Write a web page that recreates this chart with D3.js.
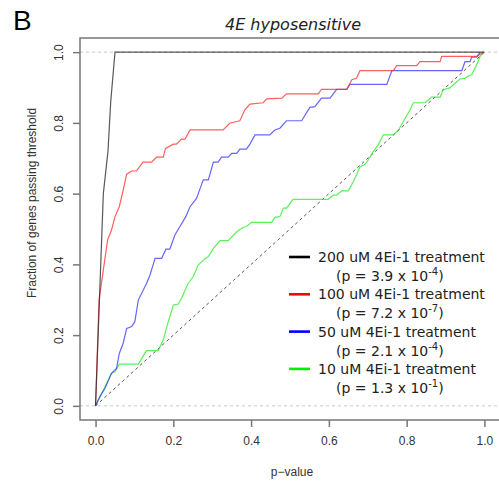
<!DOCTYPE html>
<html lang="en">
<head>
  <meta charset="UTF-8">
  <title>4E hyposensitive</title>
  <script src="https://d3js.org/d3.v7.min.js"></script>
  <style>
    body { margin: 0; background: white; }
    svg { display: block; }
  </style>
</head>
<body>
  <svg id="chart" width="499" height="489"></svg>
  <script>
    // cumulative fraction of genes passing threshold
    const p200 = [0, 0.007, 0.02, 0.032, 0.039, 0.05, 1.0];
    const f200 = [0, 0.21, 0.60, 0.72, 0.86, 1.0, 1.0];

    const p100 = [0, 0.009, 0.031, 0.041, 0.050, 0.061, 0.071, 0.080, 0.093, 0.105, 0.122, 0.144, 0.157, 0.174, 0.180, 0.200, 0.208, 0.221, 0.230, 0.243, 0.328, 0.345, 0.371, 0.384, 0.397, 0.431, 0.440, 0.479, 0.491, 0.573, 0.581, 0.646, 0.659, 0.671, 0.680, 0.766, 0.774, 0.826, 0.834, 0.886, 0.890, 0.980, 0.997];
    const f100 = [0, 0.299, 0.469, 0.497, 0.535, 0.563, 0.610, 0.655, 0.664, 0.664, 0.689, 0.689, 0.703, 0.703, 0.728, 0.740, 0.740, 0.754, 0.754, 0.780, 0.780, 0.799, 0.806, 0.837, 0.853, 0.857, 0.868, 0.870, 0.882, 0.882, 0.895, 0.895, 0.922, 0.926, 0.948, 0.948, 0.962, 0.962, 0.973, 0.973, 0.988, 0.988, 1.0];

    const p50 = [0, 0.011, 0.024, 0.041, 0.054, 0.061, 0.071, 0.080, 0.093, 0.101, 0.110, 0.131, 0.140, 0.153, 0.170, 0.181, 0.191, 0.204, 0.217, 0.232, 0.243, 0.260, 0.268, 0.277, 0.290, 0.303, 0.315, 0.324, 0.341, 0.350, 0.363, 0.371, 0.388, 0.397, 0.410, 0.448, 0.461, 0.474, 0.491, 0.530, 0.551, 0.564, 0.581, 0.603, 0.620, 0.646, 0.654, 0.749, 0.762, 0.942, 0.950, 0.963, 0.967, 0.980, 0.989];
    const f50 = [0, 0.026, 0.049, 0.092, 0.106, 0.148, 0.177, 0.219, 0.224, 0.238, 0.299, 0.346, 0.370, 0.417, 0.417, 0.443, 0.443, 0.483, 0.507, 0.535, 0.563, 0.587, 0.612, 0.639, 0.639, 0.689, 0.689, 0.703, 0.703, 0.714, 0.714, 0.726, 0.726, 0.740, 0.766, 0.766, 0.780, 0.785, 0.806, 0.806, 0.844, 0.846, 0.870, 0.870, 0.895, 0.895, 0.909, 0.909, 0.948, 0.948, 0.973, 0.973, 0.986, 0.986, 1.0];

    const p10 = [0, 0.020, 0.041, 0.050, 0.061, 0.110, 0.131, 0.161, 0.174, 0.187, 0.200, 0.213, 0.221, 0.238, 0.251, 0.264, 0.277, 0.290, 0.303, 0.320, 0.341, 0.363, 0.380, 0.388, 0.401, 0.453, 0.461, 0.474, 0.483, 0.491, 0.508, 0.598, 0.611, 0.620, 0.633, 0.650, 0.663, 0.671, 0.680, 0.693, 0.701, 0.714, 0.727, 0.740, 0.766, 0.779, 0.796, 0.809, 0.817, 0.848, 0.856, 0.864, 0.886, 0.894, 0.911, 0.920, 0.937, 0.950, 0.959, 0.967, 0.980, 0.989, 0.997];
    const f10 = [0, 0.044, 0.092, 0.096, 0.118, 0.118, 0.156, 0.156, 0.186, 0.238, 0.285, 0.288, 0.304, 0.346, 0.365, 0.398, 0.412, 0.422, 0.445, 0.467, 0.467, 0.492, 0.505, 0.507, 0.519, 0.519, 0.533, 0.535, 0.559, 0.559, 0.584, 0.584, 0.596, 0.596, 0.608, 0.608, 0.634, 0.653, 0.676, 0.683, 0.695, 0.719, 0.738, 0.766, 0.766, 0.780, 0.813, 0.837, 0.857, 0.857, 0.865, 0.873, 0.873, 0.894, 0.899, 0.908, 0.924, 0.926, 0.933, 0.936, 0.964, 0.988, 1.0];

    const seriesNames = ["200 uM 4Ei-1 treatment", "100 uM 4Ei-1 treatment", "50 uM 4Ei-1 treatment", "10 uM 4Ei-1 treatment"];
    const pMantissa = ["3.9", "7.2", "2.1", "1.3"];
    const pExponent = ["-4", "-7", "-4", "-1"];
    const xTicks = [0, 0.2, 0.4, 0.6, 0.8, 1.0];
    const yTicks = [0, 0.2, 0.4, 0.6, 0.8, 1.0];

    const svg = d3.select("#chart");

    // R-like 4% padding on both axes
    const x = d3.scaleLinear().domain([-0.04, 1.04]).range([80, 500]);
    const y = d3.scaleLinear().domain([-0.04, 1.04]).range([420, 38]);

    // panel letter and title
    svg.append("text")
       .attr("x", 13).attr("y", 30)
       .attr("font-family", "Liberation Sans, Arial, sans-serif")
       .attr("font-size", 28)
       .text("B");
    svg.append("text")
       .attr("x", 293).attr("y", 30)
       .attr("text-anchor", "middle")
       .attr("font-family", "DejaVu Sans, sans-serif")
       .attr("font-style", "italic")
       .attr("font-size", 16)
       .attr("fill", "#222")
       .text("4E hyposensitive");

    // reference lines at 0 and 1
    [0, 1].forEach(v => {
      svg.append("line")
         .attr("x1", x.range()[0]).attr("x2", x.range()[1])
         .attr("y1", y(v)).attr("y2", y(v))
         .attr("stroke", "#c8c8c8")
         .attr("stroke-dasharray", "3,3");
    });

    // diagonal
    svg.append("line")
       .attr("x1", x(0)).attr("y1", y(0))
       .attr("x2", x(1)).attr("y2", y(1))
       .attr("stroke", "#555")
       .attr("stroke-dasharray", "3,3");

    const lineGen = d3.line().x(d => x(d[0])).y(d => y(d[1]));

    const series = [
      { px: p10,  fy: f10,  color: "#22ee22" },
      { px: p50,  fy: f50,  color: "#3333ff" },
      { px: p100, fy: f100, color: "#ff2a2a" },
      { px: p200, fy: f200, color: "#222222" }
    ];
    series.forEach(s => {
      svg.append("path")
         .datum(s.px.map((p, i) => [p, s.fy[i]]))
         .attr("fill", "none")
         .attr("stroke", s.color)
         .attr("stroke-opacity", 0.75)
         .attr("stroke-width", 1.2)
         .attr("d", lineGen);
    });

    // box (right side falls outside the picture)
    svg.append("path")
       .attr("d", `M${x.range()[1]},${y.range()[1]}H${x.range()[0]}V${y.range()[0]}H${x.range()[1]}`)
       .attr("fill", "none")
       .attr("stroke", "#777")
       .attr("stroke-width", 1.5);

    // axes
    const xAxis = svg.append("g")
       .attr("transform", `translate(0,420)`)
       .call(d3.axisBottom(x).tickValues(xTicks).tickFormat(d3.format(".1f")).tickSize(7).tickPadding(9));
    const yAxis = svg.append("g")
       .attr("transform", `translate(80,0)`)
       .call(d3.axisLeft(y).tickValues(yTicks).tickFormat(d3.format(".1f")).tickSize(7).tickPadding(4));
    [xAxis, yAxis].forEach(a => {
      a.select(".domain").remove();
      a.selectAll(".tick line").attr("stroke", "#777").attr("stroke-width", 1.5);
      a.selectAll("text")
       .attr("font-family", "Liberation Sans, Arial, sans-serif")
       .attr("font-size", 12)
       .attr("fill", "#333");
    });
    yAxis.selectAll(".tick text")
         .attr("text-anchor", "middle")
         .attr("dy", null)
         .attr("x", null)
         .attr("transform", "translate(-17,0) rotate(-90)");

    svg.append("text")
       .attr("x", 292).attr("y", 476)
       .attr("text-anchor", "middle")
       .attr("font-family", "Liberation Sans, Arial, sans-serif")
       .attr("font-size", 12)
       .attr("fill", "#333")
       .text("p\u2212value");
    svg.append("text")
       .attr("transform", "translate(36,203) rotate(-90)")
       .attr("text-anchor", "middle")
       .attr("font-family", "Liberation Sans, Arial, sans-serif")
       .attr("font-size", 12)
       .attr("fill", "#333")
       .text("Fraction of genes passing threshold");

    // legend
    const legendColors = ["#000000", "#ff0000", "#0000ff", "#00ee00"];
    const legend = svg.append("g")
       .attr("font-family", "DejaVu Sans, sans-serif")
       .attr("font-size", 14)
       .attr("fill", "#222");
    seriesNames.forEach((name, i) => {
      const row = legend.append("g").attr("transform", `translate(0,${257 + i * 37.3})`);
      row.append("line")
         .attr("x1", 289).attr("x2", 310)
         .attr("y1", 0).attr("y2", 0)
         .attr("stroke", legendColors[i])
         .attr("stroke-width", 2.6);
      row.append("text")
         .attr("x", 318).attr("y", 5)
         .text(name);
      const t = row.append("text")
         .attr("x", 336).attr("y", 24);
      t.append("tspan").text(`(p = ${pMantissa[i]} x 10`);
      t.append("tspan").attr("dy", -6).attr("font-size", 10).text(pExponent[i]);
      t.append("tspan").attr("dy", 6).text(")");
    });
  </script>
</body>
</html>
